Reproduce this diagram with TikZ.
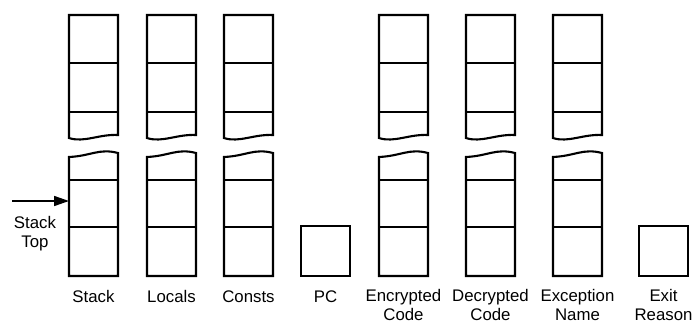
\documentclass[tikz,border=0pt]{standalone}
\usepackage{fontspec}
\setmainfont{Liberation Sans}
\usetikzlibrary{arrows.meta}
\begin{document}
\begin{tikzpicture}[x=1pt,y=-1pt,
  cellline/.style={line width=2.1pt,line join=miter},
  thinline/.style={line width=1.6pt},
  lbl/.style={anchor=base,inner sep=0pt,align=center,font=\fontsize{16.8}{19}\selectfont},
  ptr/.style={line width=1.6pt,-{Triangle[length=15pt,width=10pt]}},
  % a register split in two by a break, three cells above and three below
  fullcol/.pic={
    \draw[cellline] (0,138) -- (0,15) -- (49,15) -- (49,135)
      .. controls (30,134) and (15,143) .. cycle;
    \draw[thinline] (0,63) -- (49,63);
    \draw[cellline] (0,112) -- (49,112);
    \draw[cellline] (0,157) .. controls (22,156) and (30,148) .. (49,153)
      -- (49,276) -- (0,276) -- cycle;
    \draw[cellline] (0,180) -- (49,180);
    \draw[cellline] (0,227) -- (49,227);
  },
  % a single-cell register
  onecell/.pic={
    \draw[cellline] (0,226) rectangle (49,276);
  }]
\useasboundingbox (0,0) rectangle (694,324);

% registers
\pic (stack) at (69,0) {fullcol};
\pic (locals) at (147,0) {fullcol};
\pic (consts) at (224,0) {fullcol};
\pic (pc) at (301,0) {onecell};
\pic (enc) at (379,0) {fullcol};
\pic (dec) at (466,0) {fullcol};
\pic (exc) at (553,0) {fullcol};
\pic (exit) at (639,0) {onecell};

% names under the registers (base anchor sits on the last line)
\node[lbl] (lstack)  at (93.5,302.5)  {Stack};
\node[lbl] (llocals) at (171.5,302.5) {Locals};
\node[lbl] (lconsts) at (248.5,302.5) {Consts};
\node[lbl] (lpc)     at (325.5,302.5) {PC};
\node[lbl] (lenc)    at (403.5,320.5) {Encrypted\\Code};
\node[lbl] (ldec)    at (490.5,320.5) {Decrypted\\Code};
\node[lbl] (lexc)    at (577.5,320.5) {Exception\\Name};
\node[lbl] (lexit)   at (663.5,320.5) {Exit\\Reason};

% stack top pointer
\node[lbl] (stop) at (35,247.5) {Stack\\Top};
\coordinate (ptrtail) at (12,201);
\coordinate (stacktop) at (69,201);
\draw[ptr] (ptrtail) -- (stacktop);
\end{tikzpicture}
\end{document}
